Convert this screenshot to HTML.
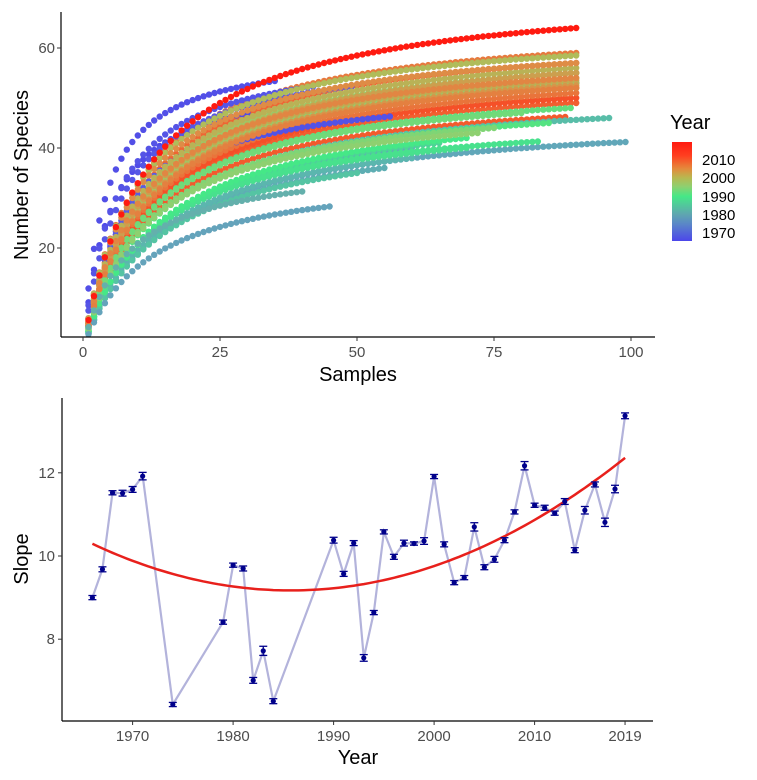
<!DOCTYPE html>
<html><head><meta charset="utf-8">
<style>
html,body{margin:0;padding:0;background:#fff;}
svg{display:block;font-family:"Liberation Sans",sans-serif;}
</style></head>
<body>
<svg id="chart" width="757" height="780" viewBox="0 0 757 780" xmlns="http://www.w3.org/2000/svg">
<defs>
<linearGradient id="yeargrad" x1="0" y1="1" x2="0" y2="0">
<stop offset="0" stop-color="#4c46ea"/>
<stop offset="0.17" stop-color="#5a86c8"/>
<stop offset="0.27" stop-color="#5fa6b0"/>
<stop offset="0.45" stop-color="#45e887"/>
<stop offset="0.55" stop-color="#8ed070"/>
<stop offset="0.64" stop-color="#b8b850"/>
<stop offset="0.73" stop-color="#e48a3c"/>
<stop offset="0.86" stop-color="#ff4020"/>
<stop offset="1" stop-color="#ff1a10"/>
</linearGradient>
</defs>
<g id="topPanel"></g>
<g id="bottomPanel"></g>
<g>
<text x="670" y="129" font-size="20" fill="#000">Year</text>
<rect x="672" y="142" width="20" height="99" fill="url(#yeargrad)"/>
<text x="702" y="165" font-size="15" fill="#000">2010</text>
<text x="702" y="183" font-size="15" fill="#000">2000</text>
<text x="702" y="202" font-size="15" fill="#000">1990</text>
<text x="702" y="220" font-size="15" fill="#000">1980</text>
<text x="702" y="238" font-size="15" fill="#000">1970</text>
</g>
</svg>
<script>
// ---- top panel data: one curve per year ----
const curveYears   = [2011,2013,2014,2015,2016,2017,2018,2012,2010,2009,2008,1980,1981,1982,1983,1984,1985,1986,1987,1988,1989,1990,1991,1992,1993,1994,1995,1966,1967,1968,1969,1970,1971,1996,1997,1998,1999,2000,2001,2002,2003,2004,2005,2006,2007,1974,1979,2019];
const curveSamples = [88,90,88,90,90,90,90,90,90,90,90,60,99,55,60,96,50,60,65,70,83,70,85,89,80,75,72,30,35,56,42,49,75,90,90,90,90,90,90,90,90,90,90,90,90,40,45,90];
const curveEnd     = [50,49,46.2,55,50,53,52,57,53,51,59,40,41.2,36,38,46,35,39,41,40,41.3,42,45,48,47,44,43,47,53.4,46.3,52.3,52.3,52,53,55,52,54,58.5,56,53.5,55,52.5,57,54,52,31.3,28.3,64];
const curveK       = [12,12,12,12,12,11,12,11,11,12,10,14,15,14,14,13,14,13,14,13,13,14,13,12,12,12,12,5,4,8,6,7,9,11,11,11,11,10,11,11,12,12,10,11,12,8,12,12];
// ---- bottom panel data ----
const slopeYears = [1966,1967,1968,1969,1970,1971,1974,1979,1980,1981,1982,1983,1984,1990,1991,1992,1993,1994,1995,1996,1997,1998,1999,2000,2001,2002,2003,2004,2005,2006,2007,2008,2009,2010,2011,2012,2013,2014,2015,2016,2017,2018,2019];
const slopeVals  = [9.00,9.68,11.52,11.51,11.60,11.92,6.43,8.41,9.78,9.70,7.01,7.72,6.51,10.38,9.57,10.31,7.55,8.64,10.58,9.98,10.31,10.30,10.36,11.91,10.28,9.36,9.48,10.70,9.73,9.92,10.38,11.06,12.17,11.22,11.16,11.03,11.31,10.14,11.10,11.72,10.81,11.61,13.37];
const slopeErr   = [0.05,0.06,0.05,0.07,0.07,0.09,0.05,0.05,0.05,0.06,0.07,0.11,0.06,0.07,0.06,0.06,0.08,0.05,0.05,0.06,0.07,0.04,0.08,0.05,0.06,0.05,0.05,0.1,0.06,0.07,0.06,0.05,0.1,0.05,0.06,0.05,0.07,0.06,0.09,0.06,0.1,0.09,0.07];
const topXTicks = [0,25,50,75,100];
const topYTicks = [20,40,60];
const botXTicks = [1970,1980,1990,2000,2010,2019];
const botYTicks = [8,10,12];

const NS='http://www.w3.org/2000/svg';
function mk(parent,tag,attrs){const e=document.createElementNS(NS,tag);for(const k in attrs)e.setAttribute(k,attrs[k]);parent.appendChild(e);return e;}

function yearColor(yr){
  const stops=[[1966,[80,76,232]],[1971,[88,90,228]],[1974,[100,176,172]],[1980,[100,160,190]],[1990,[69,232,135]],[1995,[142,208,112]],[2000,[176,188,90]],[2005,[222,140,70]],[2010,[236,110,56]],[2016,[245,80,40]],[2019,[255,26,16]]];
  if(yr<=stops[0][0])return 'rgb('+stops[0][1]+')';
  for(let i=1;i<stops.length;i++){if(yr<=stops[i][0]){const a=stops[i-1],b=stops[i];const t=(yr-a[0])/(b[0]-a[0]);const c=a[1].map((v,j)=>Math.round(v+(b[1][j]-v)*t));return 'rgb('+c+')';}}
  return 'rgb('+stops[stops.length-1][1]+')';
}

// ---- top panel ----
const topG=document.getElementById('topPanel');
const tx=s=>83+s*5.48, ty=v=>48+(60-v)*5;
const curvesG=mk(topG,'g',{});


curveYears.forEach((yr,i)=>{
  const n=curveSamples[i],K=curveK[i],Smax=curveEnd[i]*(K+n)/n;
  const g=mk(curvesG,'g',{fill:yearColor(yr)});
  
  
  for(let s=1;s<=n;s++){
    mk(g,'circle',{cx:tx(s).toFixed(1),cy:ty(Smax*s/(K+s)).toFixed(1),r:3.2});
  }
});
let el=mk(topG,'line',{x1:61,y1:12,x2:61,y2:337,stroke:'#000','stroke-width':1.2});


el=mk(topG,'line',{x1:61,y1:337,x2:655,y2:337,stroke:'#000','stroke-width':1.2});


topXTicks.forEach(t=>{
  mk(topG,'line',{x1:tx(t),y1:337,x2:tx(t),y2:341,stroke:'#333'});
  const l=mk(topG,'text',{x:tx(t),y:357,'font-size':15,fill:'#4d4d4d','text-anchor':'middle'});l.textContent=t;
  
  
});
topYTicks.forEach(t=>{
  mk(topG,'line',{x1:57,y1:ty(t),x2:61,y2:ty(t),stroke:'#333'});
  const l=mk(topG,'text',{x:55,y:ty(t)+5,'font-size':15,fill:'#4d4d4d','text-anchor':'end'});l.textContent=t;
  
  
});
el=mk(topG,'text',{x:358,y:381,'font-size':20,'text-anchor':'middle',fill:'#000'});el.textContent='Samples';


el=mk(topG,'text',{x:0,y:0,'font-size':20,'text-anchor':'middle',fill:'#000',transform:'translate(28,175) rotate(-90)'});el.textContent='Number of Species';



// ---- bottom panel ----
const botG=document.getElementById('bottomPanel');
const bx=yr=>132.6+(yr-1970)*10.05, by=v=>556-(v-10)*41.6;
const lineG=mk(botG,'polyline',{points:slopeYears.map((y,i)=>bx(y).toFixed(1)+','+by(slopeVals[i]).toFixed(1)).join(' '),fill:'none',stroke:'#b3b3db','stroke-width':2.2});


// quadratic least squares fit
(function(){
  const m=slopeYears.reduce((a,b)=>a+b,0)/slopeYears.length;
  let S=[0,0,0,0,0],T=[0,0,0];
  slopeYears.forEach((yr,i)=>{const u=yr-m;for(let k=0;k<5;k++)S[k]+=Math.pow(u,k);for(let k=0;k<3;k++)T[k]+=slopeVals[i]*Math.pow(u,k);});
  const A=[[S[0],S[1],S[2],T[0]],[S[1],S[2],S[3],T[1]],[S[2],S[3],S[4],T[2]]];
  for(let i=0;i<3;i++){for(let j=i+1;j<3;j++){const f=A[j][i]/A[i][i];for(let k=i;k<4;k++)A[j][k]-=f*A[i][k];}}
  const c=[0,0,0];for(let i=2;i>=0;i--){let s=A[i][3];for(let k=i+1;k<3;k++)s-=A[i][k]*c[k];c[i]=s/A[i][i];}
  const y0=slopeYears[0],y1=slopeYears[slopeYears.length-1];const pts=[];
  for(let yr=y0;yr<=y1+1e-6;yr+=0.5){const u=yr-m;pts.push(bx(yr).toFixed(1)+','+by(c[0]+c[1]*u+c[2]*u*u).toFixed(1));}
  const f=mk(botG,'polyline',{points:pts.join(' '),fill:'none',stroke:'#e8201c','stroke-width':2.5});
  
  
})();
slopeYears.forEach((yr,i)=>{
  const g=mk(botG,'g',{stroke:'#00008b',fill:'#00008b'});
  
  
  const x=bx(yr),v=slopeVals[i],e=slopeErr[i];
  mk(g,'line',{x1:x,y1:by(v+e),x2:x,y2:by(v-e),'stroke-width':1.3});
  mk(g,'line',{x1:x-4,y1:by(v+e),x2:x+4,y2:by(v+e),'stroke-width':1.3});
  mk(g,'line',{x1:x-4,y1:by(v-e),x2:x+4,y2:by(v-e),'stroke-width':1.3});
  mk(g,'circle',{cx:x,cy:by(v),r:2.6,stroke:'none'});
});
el=mk(botG,'line',{x1:62,y1:398,x2:62,y2:721,stroke:'#000','stroke-width':1.2});


el=mk(botG,'line',{x1:62,y1:721,x2:653,y2:721,stroke:'#000','stroke-width':1.2});


botXTicks.forEach(t=>{
  mk(botG,'line',{x1:bx(t),y1:721,x2:bx(t),y2:725,stroke:'#333'});
  const l=mk(botG,'text',{x:bx(t),y:741,'font-size':15,fill:'#4d4d4d','text-anchor':'middle'});l.textContent=t;
  
  
});
botYTicks.forEach(t=>{
  mk(botG,'line',{x1:58,y1:by(t),x2:62,y2:by(t),stroke:'#333'});
  const l=mk(botG,'text',{x:55,y:by(t)+5,'font-size':15,fill:'#4d4d4d','text-anchor':'end'});l.textContent=t;
  
  
});
el=mk(botG,'text',{x:358,y:764,'font-size':20,'text-anchor':'middle',fill:'#000'});el.textContent='Year';


el=mk(botG,'text',{x:0,y:0,'font-size':20,'text-anchor':'middle',fill:'#000',transform:'translate(28,559) rotate(-90)'});el.textContent='Slope';


</script>
</body></html>
